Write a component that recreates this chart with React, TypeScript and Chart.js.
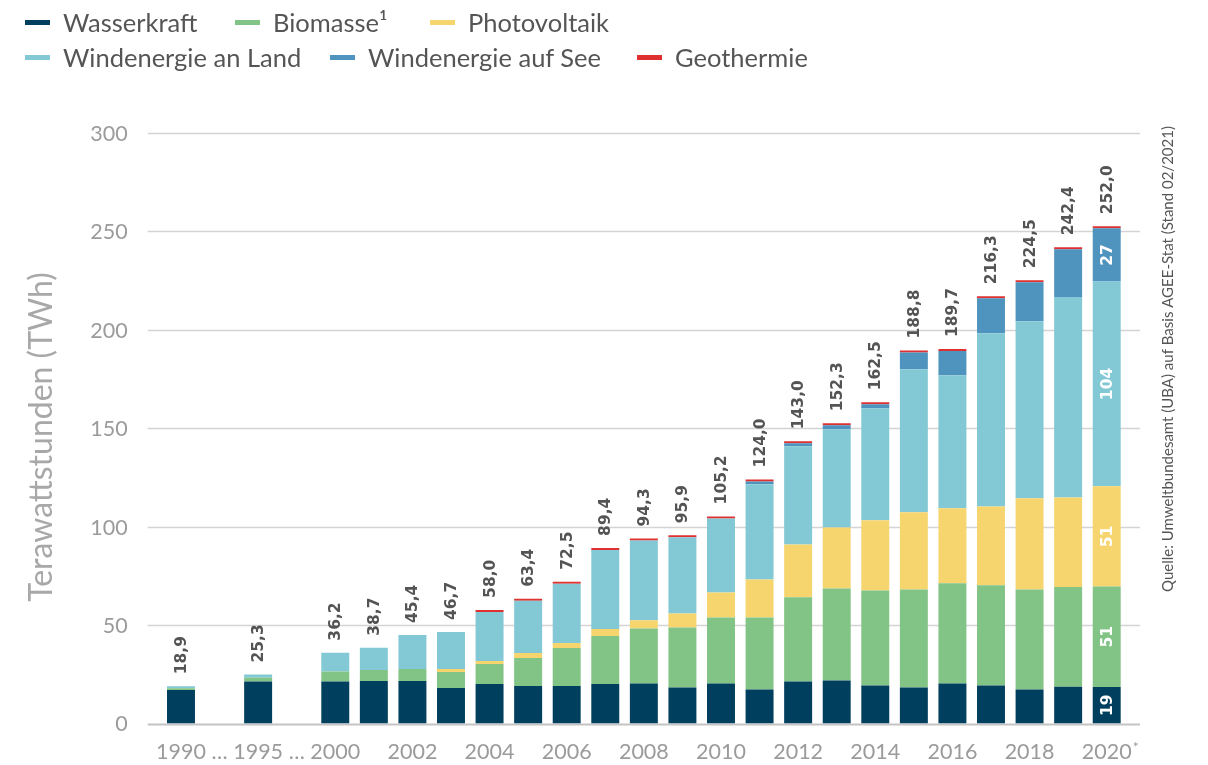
import React, { useEffect, useRef } from "react";
import { Chart, registerables } from "chart.js";

Chart.register(...registerables);

// ---------- data ----------
const categories = [
  "1990", "…", "1995", "…", "2000", "2001", "2002", "2003", "2004", "2005", "2006", "2007", "2008",
  "2009", "2010", "2011", "2012", "2013", "2014", "2015", "2016", "2017", "2018", "2019", "2020",
];

const xTickLabels = [
  "1990", "…", "1995", "…", "2000", "", "2002", "", "2004", "", "2006", "", "2008",
  "", "2010", "", "2012", "", "2014", "", "2016", "", "2018", "", "2020",
];

const wasserkraft = [17.0, null, 21.3, null, 21.3, 21.6, 21.6, 18.0, 20.1, 19.1, 19.1, 20.1, 20.3, 18.3, 20.3, 17.3, 21.4, 21.9, 19.3, 18.3, 20.3, 19.3, 17.3, 18.7, 18.6];
const biomasse = [0.9, null, 2.0, null, 5.1, 5.6, 6.1, 8.2, 10.1, 14.2, 19.3, 24.4, 28.0, 30.5, 33.6, 36.6, 42.7, 46.7, 48.3, 49.8, 50.9, 50.9, 50.8, 50.7, 51.0];
const photovoltaik = [null, null, null, null, null, null, null, 1.5, 1.6, 2.5, 2.5, 3.5, 4.1, 7.1, 12.7, 19.3, 26.9, 31.0, 35.6, 39.2, 38.1, 40.1, 46.3, 45.4, 50.9];
const windLand = [1.0, null, 1.6, null, 9.6, 11.3, 17.3, 18.8, 24.9, 26.5, 30.1, 40.2, 40.6, 38.7, 37.6, 48.3, 49.8, 49.9, 56.9, 72.7, 67.6, 88.0, 90.0, 101.9, 104.0];
const windSee = [null, null, null, null, null, null, null, null, null, null, null, null, null, null, null, 1.5, 1.6, 2.0, 2.1, 8.5, 12.3, 17.7, 19.8, 24.2, 27.1];
const geothermie = [null, null, null, null, null, null, null, null, 0.1, 0.1, 0.1, 0.1, 0.1, 0.1, 0.1, 0.1, 0.1, 0.1, 0.1, 0.1, 0.2, 0.2, 0.2, 0.2, 0.2];

const totals = [18.9, null, 25.3, null, 36.2, 38.7, 45.4, 46.7, 58.0, 63.4, 72.5, 89.4, 94.3, 95.9, 105.2, 124.0, 143.0, 152.3, 162.5, 188.8, 189.7, 216.3, 224.5, 242.4, 252.0];

const labels2020 = ["19", "51", "51", "104", "27"];

const seriesNames = ["Wasserkraft", "Biomasse¹", "Photovoltaik", "Windenergie an Land", "Windenergie auf See", "Geothermie"];
const seriesColors = ["#003f5e", "#82c485", "#f6d56f", "#83c8d5", "#4f94bf", "#e03131"];

const yTicks = [0, 50, 100, 150, 200, 250, 300];

const yTitle = "Terawattstunden (TWh)";
const sourceText = "Quelle: Umweltbundesamt (UBA) auf Basis AGEE-Stat (Stand 02/2021)";

// ---------- styles ----------
const AXIS_FONT = "Lato, 'Open Sans', sans-serif";
const NUM_FONT = "'DejaVu Sans', Verdana, sans-serif";
const TICK_SIZE = 21.5;
const TICK_COLOR = "#9b9b9b";

const legendLayout = [
  { left: 25, top: 7 },
  { left: 235, top: 7 },
  { left: 430, top: 7 },
  { left: 25, top: 42 },
  { left: 330, top: 42 },
  { left: 637, top: 42 },
];

const fmt = (v: number) => v.toFixed(1).replace(".", ",");

const customPlugin = {
  id: "customDraw",
  beforeDatasetsDraw(chart: any) {
    const { ctx, chartArea, scales } = chart;
    ctx.save();
    yTicks.forEach((t) => {
      const y = Math.round(scales.y.getPixelForValue(t)) + 0.5;
      ctx.beginPath();
      ctx.strokeStyle = t === 0 ? "#c4c4c4" : "#d4d4d4";
      ctx.lineWidth = t === 0 ? 2 : 1.5;
      ctx.moveTo(chartArea.left - 14, y);
      ctx.lineTo(chartArea.right + 14, y);
      ctx.stroke();
    });
    ctx.restore();
  },
  afterDatasetsDraw(chart: any) {
    const { ctx } = chart;
    const n = categories.length;
    ctx.save();
    for (let i = 0; i < n; i++) {
      const tv = totals[i];
      if (tv == null) continue;
      let topY = Infinity;
      let x = 0;
      chart.data.datasets.forEach((ds: any, di: number) => {
        if (ds.data[i] == null) return;
        const el = chart.getDatasetMeta(di).data[i];
        if (!el) return;
        x = el.x;
        topY = Math.min(topY, el.y, el.base);
      });
      if (!isFinite(topY)) continue;
      ctx.save();
      ctx.translate(x, topY - 12);
      ctx.rotate(-Math.PI / 2);
      ctx.font = `bold 15.5px ${NUM_FONT}`;
      ctx.fillStyle = "#545454";
      ctx.textAlign = "left";
      ctx.textBaseline = "middle";
      ctx.fillText(fmt(tv), 0, 1);
      ctx.restore();
    }
    const last = n - 1;
    labels2020.forEach((lab, di) => {
      const el = chart.getDatasetMeta(di).data[last];
      if (!el) return;
      const cy = (el.y + el.base) / 2;
      ctx.save();
      ctx.translate(el.x, cy);
      ctx.rotate(-Math.PI / 2);
      ctx.font = `bold 15.5px ${NUM_FONT}`;
      ctx.fillStyle = "#ffffff";
      ctx.textAlign = "center";
      ctx.textBaseline = "middle";
      ctx.fillText(lab, 0, 1);
      ctx.restore();
    });
    ctx.restore();
  },
  afterDraw(chart: any) {
    const { ctx, chartArea, scales } = chart;
    ctx.save();
    // y tick labels
    ctx.font = `${TICK_SIZE}px ${AXIS_FONT}`;
    ctx.fillStyle = TICK_COLOR;
    ctx.textAlign = "right";
    ctx.textBaseline = "middle";
    yTicks.forEach((t) => {
      ctx.fillText(String(t), chartArea.left - 34, scales.y.getPixelForValue(t) + 1);
    });
    // x tick labels
    ctx.textAlign = "center";
    xTickLabels.forEach((lab, i) => {
      if (!lab) return;
      ctx.fillText(lab, scales.x.getPixelForValue(i), chartArea.bottom + 29);
    });
    // asterisk
    const li = categories.length - 1;
    const xl = scales.x.getPixelForValue(li);
    const w = ctx.measureText(xTickLabels[li]).width;
    ctx.font = `14px ${AXIS_FONT}`;
    ctx.textAlign = "left";
    ctx.textBaseline = "top";
    ctx.fillText("*", xl + w / 2 + 1, chartArea.bottom + 17);
    // y title
    ctx.save();
    ctx.translate(42, 437);
    ctx.rotate(-Math.PI / 2);
    ctx.font = `32px ${AXIS_FONT}`;
    ctx.fillStyle = "#a8a8a8";
    ctx.textAlign = "center";
    ctx.textBaseline = "middle";
    ctx.fillText(yTitle, 0, 0);
    ctx.restore();
    // source
    ctx.save();
    ctx.translate(1168, 359);
    ctx.rotate(-Math.PI / 2);
    ctx.font = `15px ${AXIS_FONT}`;
    ctx.fillStyle = "#555555";
    ctx.textAlign = "center";
    ctx.textBaseline = "middle";
    ctx.fillText(sourceText, 0, 0);
    ctx.restore();
    ctx.restore();
  },
};

export default function App() {
  const canvasRef = useRef<HTMLCanvasElement | null>(null);

  useEffect(() => {
    if (!canvasRef.current) return;
    const seriesData = [wasserkraft, biomasse, photovoltaik, windLand, windSee, geothermie];
    const chart = new Chart(canvasRef.current, {
      type: "bar",
      data: {
        labels: categories,
        datasets: seriesData.map((d, i) => ({
          label: seriesNames[i],
          data: d,
          backgroundColor: seriesColors[i],
          borderWidth: 0,
          categoryPercentage: 1,
          barPercentage: 0.725,
          minBarLength: i === 5 ? 2 : 0,
        })),
      },
      options: {
        responsive: false,
        maintainAspectRatio: false,
        animation: false,
        layout: { autoPadding: false, padding: { left: 161.7, right: 82, top: 133, bottom: 41.5 } },
        plugins: {
          legend: { display: false },
          tooltip: { enabled: false },
        },
        scales: {
          x: {
            display: false,
            stacked: true,
            offset: true,
          },
          y: {
            display: false,
            stacked: true,
            min: 0,
            max: 300,
          },
        },
      },
      plugins: [customPlugin],
    });
    return () => chart.destroy();
  }, []);

  return (
    <div style={{ position: "absolute", left: 0, top: 0, width: 1208, height: 765, background: "#ffffff" }}>
      <canvas ref={canvasRef} width={1208} height={765} style={{ display: "block", width: 1208, height: 765 }} />
      {seriesNames.map((name, i) => (
        <div
          key={name}
          style={{
            position: "absolute",
            left: legendLayout[i].left,
            top: legendLayout[i].top,
            height: 30,
            display: "flex",
            alignItems: "center",
            fontFamily: AXIS_FONT,
            fontSize: 25.5,
            color: "#555555",
            whiteSpace: "nowrap",
          }}
        >
          <span style={{ display: "inline-block", width: 25, height: 5, background: seriesColors[i], marginRight: 13 }} />
          <span>{name}</span>
        </div>
      ))}
    </div>
  );
}
